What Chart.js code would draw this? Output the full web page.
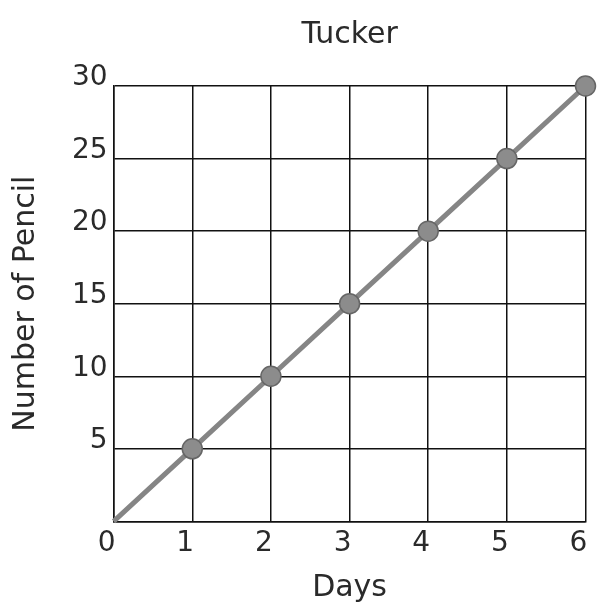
<!DOCTYPE html>
<html>
<head>
<meta charset="utf-8">
<script src="https://cdn.jsdelivr.net/npm/chart.js@4/dist/chart.umd.min.js"></script>
<style>
  html, body { margin: 0; padding: 0; background: #fff; }
  #wrap { width: 597px; height: 608px; }
</style>
</head>
<body>
<div id="wrap"><canvas id="chart" width="597" height="608"></canvas></div>
<script>
const days = [0, 1, 2, 3, 4, 5, 6];
const pencils = [0, 5, 10, 15, 20, 25, 30];
const xTicks = [0, 1, 2, 3, 4, 5, 6];
const yTicks = [0, 5, 10, 15, 20, 25, 30];

const textColor = '#2a2a2a';
const fontFamily = '"DejaVu Sans", Verdana, sans-serif';
const tickSize = 28;
const titleSize = 30;

const points = days.map((d, i) => ({ x: d, y: pencils[i] }));

new Chart(document.getElementById('chart'), {
    type: 'line',
    data: {
        datasets: [{
            label: 'Tucker',
            data: points,
            borderColor: '#858585',
            borderWidth: 5,
            backgroundColor: '#8c8c8c',
            pointBorderColor: '#666',
            pointBorderWidth: 1.5,
            // no marker at the origin
            pointRadius: ctx => (ctx.dataIndex === 0 ? 0 : 10),
            tension: 0,
            fill: false,
            clip: false
        }]
    },
    options: {
        responsive: false,
        animation: false,
        layout: { padding: { left: 8, right: 10, top: 4, bottom: 2 } },
        plugins: {
            legend: { display: false },
            tooltip: { enabled: false },
            title: {
                display: true,
                fullSize: false,
                text: 'Tucker',
                color: textColor,
                font: { family: fontFamily, size: titleSize, weight: 'normal' },
                padding: { top: 13, bottom: 33 }
            }
        },
        scales: {
            x: {
                type: 'linear',
                min: 0,
                max: 6,
                afterBuildTicks: axis => { axis.ticks = xTicks.map(v => ({ value: v })); },
                // the last label is shifted left, so it needs no extra room on the right
                afterFit: axis => { axis.paddingRight = 0; },
                grid: { color: '#111', lineWidth: 1.5, drawTicks: false },
                border: { color: '#111', width: 1.5 },
                ticks: {
                    color: textColor,
                    padding: 6,
                    labelOffset: -7,
                    font: { family: fontFamily, size: tickSize }
                },
                title: {
                    display: true,
                    text: 'Days',
                    color: textColor,
                    font: { family: fontFamily, size: titleSize },
                    padding: { top: 3, bottom: 0 }
                }
            },
            y: {
                min: 0,
                max: 30,
                afterBuildTicks: axis => { axis.ticks = yTicks.map(v => ({ value: v })); },
                grid: { color: '#111', lineWidth: 1.5, drawTicks: false },
                border: { color: '#111', width: 1.5 },
                ticks: {
                    color: textColor,
                    padding: 6,
                    labelOffset: -8,
                    font: { family: fontFamily, size: tickSize },
                    callback: v => (v === 0 ? '' : v)
                },
                title: {
                    display: true,
                    text: 'Number of Pencil',
                    color: textColor,
                    font: { family: fontFamily, size: titleSize },
                    padding: { top: 0, bottom: 22 }
                }
            }
        }
    }
});
</script>
</body>
</html>
